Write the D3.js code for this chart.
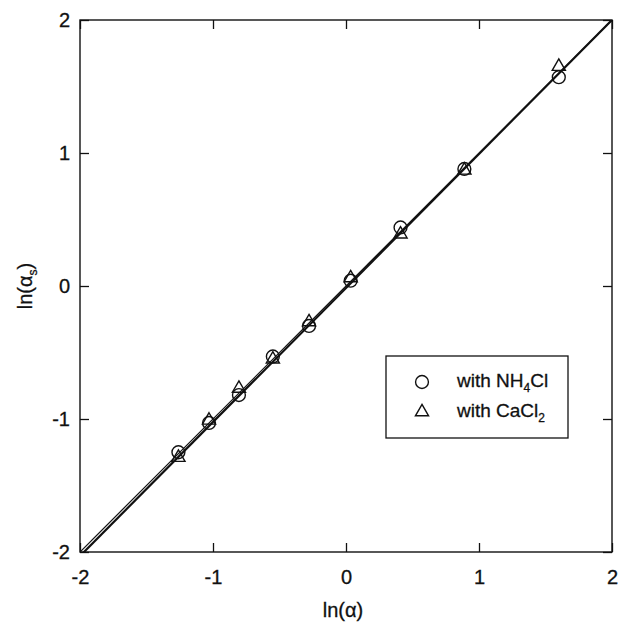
<!DOCTYPE html>
<html>
<head>
<meta charset="utf-8">
<script src="https://cdn.jsdelivr.net/npm/d3@7"></script>
<style>
  html, body { margin: 0; padding: 0; background: #fff; }
  svg { display: block; }
  text { font-family: "Liberation Sans", Arial, Helvetica, sans-serif; fill: #111; }
</style>
</head>
<body>
<svg id="chart" width="627" height="624"></svg>
<script>
// ln(alpha) values where separation factors were measured
const lnAlpha = [-1.26, -1.03, -0.805, -0.55, -0.278, 0.035, 0.41, 0.89, 1.60];
// ln(alpha_s) for each salt
const lnAlphaSNH4Cl = [-1.25, -1.03, -0.82, -0.53, -0.30, 0.04, 0.44, 0.88, 1.57];
const lnAlphaSCaCl2 = [-1.29, -1.01, -0.77, -0.55, -0.27, 0.06, 0.39, 0.87, 1.65];
// regression line through all points, and the 1:1 reference line
const fitSlope = 1.0076;
const fitIntercept = -0.015;
const lineX = [-2, 2];
// axis ticks
const xTicks = [-2, -1, 0, 1, 2];
const yTicks = [-2, -1, 0, 1, 2];
const tickLabels = ["-2", "-1", "0", "1", "2"];

const svg = d3.select("#chart");
const plotL = 80, plotR = 612, plotT = 20, plotB = 552;

const x = d3.scaleLinear().domain([-2, 2]).range([plotL, plotR]);
const y = d3.scaleLinear().domain([-2, 2]).range([plotB, plotT]);

const fmt = (d) => tickLabels[xTicks.indexOf(d)];
const tickLen = 9;

// axes with inward ticks on all four sides
const gBottom = svg.append("g").attr("transform", `translate(0,${plotB})`)
  .call(d3.axisBottom(x).tickValues(xTicks).tickFormat(fmt)
    .tickSizeInner(-tickLen).tickSizeOuter(0).tickPadding(18));
const gTop = svg.append("g").attr("transform", `translate(0,${plotT})`)
  .call(d3.axisTop(x).tickValues(xTicks).tickFormat("")
    .tickSizeInner(-tickLen).tickSizeOuter(0));
const gLeft = svg.append("g").attr("transform", `translate(${plotL},0)`)
  .call(d3.axisLeft(y).tickValues(yTicks).tickFormat(fmt)
    .tickSizeInner(-tickLen).tickSizeOuter(0).tickPadding(10));
const gRight = svg.append("g").attr("transform", `translate(${plotR},0)`)
  .call(d3.axisRight(y).tickValues(yTicks).tickFormat("")
    .tickSizeInner(-tickLen).tickSizeOuter(0));

[gBottom, gTop, gLeft, gRight].forEach(g => {
  g.select(".domain").remove();
  g.selectAll(".tick line").attr("stroke", "#111").attr("stroke-width", 1.3);
  g.selectAll(".tick text").attr("font-size", 20).attr("fill", "#111")
    .attr("stroke", "#111").attr("stroke-width", 0.3)
    .attr("font-family", '"Liberation Sans", Arial, sans-serif');
});

// plot frame
svg.append("rect")
  .attr("x", plotL).attr("y", plotT)
  .attr("width", plotR - plotL).attr("height", plotB - plotT)
  .attr("fill", "none").attr("stroke", "#111").attr("stroke-width", 1.4);

// clip region for lines
svg.append("clipPath").attr("id", "plotClip")
  .append("rect").attr("x", plotL).attr("y", plotT)
  .attr("width", plotR - plotL).attr("height", plotB - plotT);

const line = d3.line().x(d => x(d[0])).y(d => y(d[1]));

// 1:1 line
svg.append("path")
  .attr("clip-path", "url(#plotClip)")
  .attr("d", line(lineX.map(v => [v, v])))
  .attr("fill", "none").attr("stroke", "#111").attr("stroke-width", 1.2);

// regression line
svg.append("path")
  .attr("clip-path", "url(#plotClip)")
  .attr("d", line(lineX.map(v => [v, fitIntercept + fitSlope * v])))
  .attr("fill", "none").attr("stroke", "#111").attr("stroke-width", 2.2);

// markers
const circleSym = d3.symbol().type(d3.symbolCircle).size(130);
const triSym = d3.symbol().type(d3.symbolTriangle).size(75);

const ptsNH4 = lnAlpha.map((v, i) => [v, lnAlphaSNH4Cl[i]]);
const ptsCa = lnAlpha.map((v, i) => [v, lnAlphaSCaCl2[i]]);

svg.append("g").selectAll("path").data(ptsNH4).join("path")
  .attr("d", circleSym)
  .attr("transform", d => `translate(${x(d[0])},${y(d[1])})`)
  .attr("fill", "none").attr("stroke", "#111").attr("stroke-width", 1.4);

svg.append("g").selectAll("path").data(ptsCa).join("path")
  .attr("d", triSym)
  .attr("transform", d => `translate(${x(d[0])},${y(d[1])})`)
  .attr("fill", "none").attr("stroke", "#111").attr("stroke-width", 1.4);

// axis titles
svg.append("text")
  .attr("x", (plotL + plotR) / 2 - 3).attr("y", 617)
  .attr("text-anchor", "middle").attr("font-size", 20)
  .attr("stroke", "#111").attr("stroke-width", 0.3)
  .text("ln(α)");

const yt = svg.append("text")
  .attr("transform", `translate(32,${(plotT + plotB) / 2}) rotate(-90)`)
  .attr("text-anchor", "middle").attr("font-size", 20)
  .attr("stroke", "#111").attr("stroke-width", 0.3);
yt.append("tspan").text("ln(α");
yt.append("tspan").attr("font-size", 12).attr("dy", 5).text("s");
yt.append("tspan").attr("dy", -5).text(")");

// legend
const legend = svg.append("g");
legend.append("rect")
  .attr("x", 386).attr("y", 356).attr("width", 182).attr("height", 82)
  .attr("fill", "#fff").attr("stroke", "#111").attr("stroke-width", 1.3);

legend.append("path").attr("d", circleSym)
  .attr("transform", "translate(422,382)")
  .attr("fill", "none").attr("stroke", "#111").attr("stroke-width", 1.4);
legend.append("path").attr("d", triSym)
  .attr("transform", "translate(422,412)")
  .attr("fill", "none").attr("stroke", "#111").attr("stroke-width", 1.4);

const t1 = legend.append("text").attr("x", 457).attr("y", 387).attr("font-size", 19)
  .attr("stroke", "#111").attr("stroke-width", 0.3);
t1.append("tspan").text("with NH");
t1.append("tspan").attr("font-size", 12).attr("dy", 5).text("4");
t1.append("tspan").attr("dy", -5).text("Cl");

const t2 = legend.append("text").attr("x", 457).attr("y", 417).attr("font-size", 19)
  .attr("stroke", "#111").attr("stroke-width", 0.3);
t2.append("tspan").text("with CaCl");
t2.append("tspan").attr("font-size", 12).attr("dy", 5).text("2");
</script>
</body>
</html>
